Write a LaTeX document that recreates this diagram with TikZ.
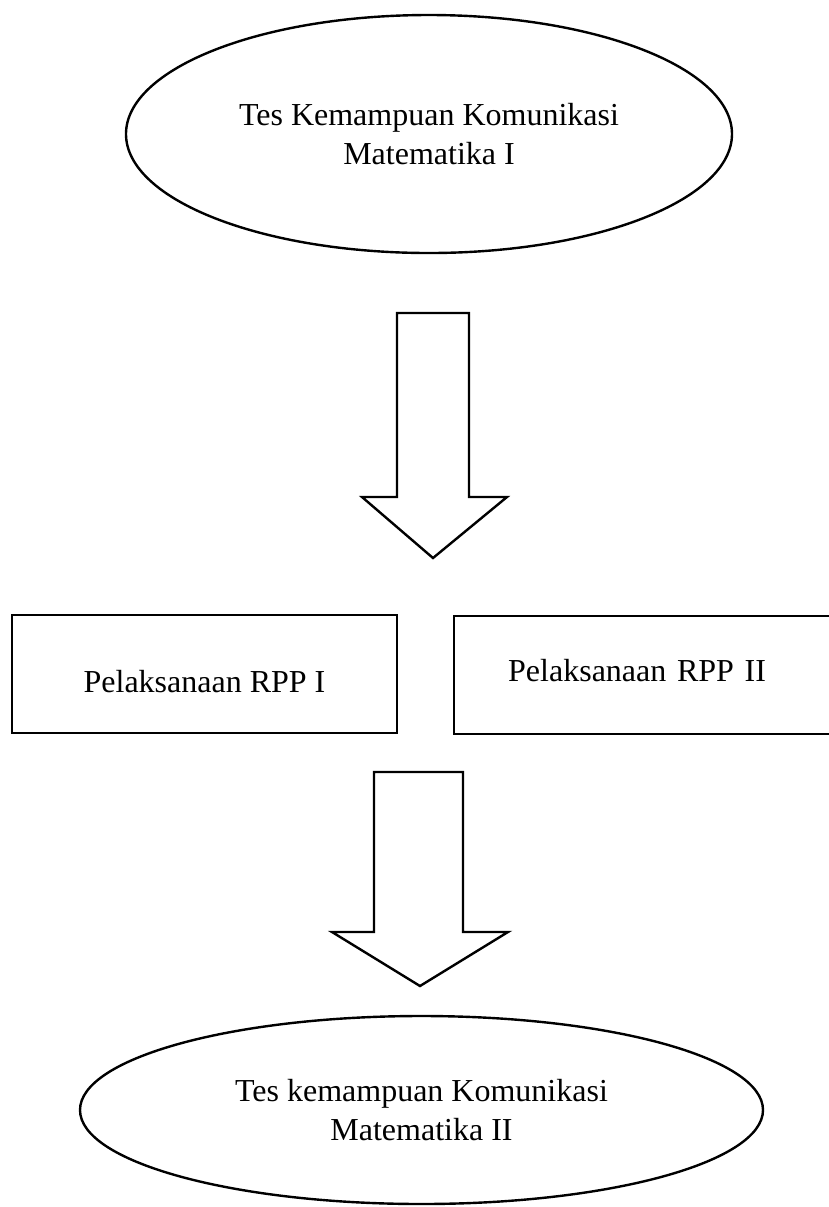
\documentclass[tikz,border=0pt]{standalone}
\usepackage{fontspec}
\setmainfont{Liberation Serif}
\usetikzlibrary{shapes.geometric}
\begin{document}
\begin{tikzpicture}[x=0.5pt,y=-0.5pt,line width=1.2pt,
    font=\fontsize{16}{19.5}\selectfont,
    oval/.style={draw,ellipse,align=center,inner sep=0pt},
    rppbox/.style={draw,rectangle,inner sep=0pt},
    fatarrow/.style={draw,line join=miter}]
  \useasboundingbox (0,0) rectangle (829,1207);
  \clip (0,0) rectangle (829,1207);
  \node[oval,minimum width=303pt,minimum height=119pt] (tes1) at (429,134) {Tes Kemampuan Komunikasi\\Matematika I};
  \draw[fatarrow] (397,313) -- (469,313) -- (469,497) -- (507,497) -- (433,558) -- (362,497) -- (397,497) -- cycle;
  \node[rppbox,minimum width=192.5pt,minimum height=59pt,text height=18pt,text depth=0pt] (rpp1) at (204.5,674) {Pelaksanaan RPP I};
  \node[rppbox,anchor=north west,minimum height=59pt,inner xsep=27pt,text width=170pt,align=left,text height=11pt,text depth=5pt] (rpp2) at (453,615) {Pelaksanaan RPP II};
  \draw[fatarrow] (374,772) -- (463,772) -- (463,932) -- (508,932) -- (420,986) -- (332,932) -- (374,932) -- cycle;
  \node[oval,minimum width=341.5pt,minimum height=94pt] (tes2) at (421.5,1110) {Tes kemampuan Komunikasi\\Matematika II};
\end{tikzpicture}
\end{document}
